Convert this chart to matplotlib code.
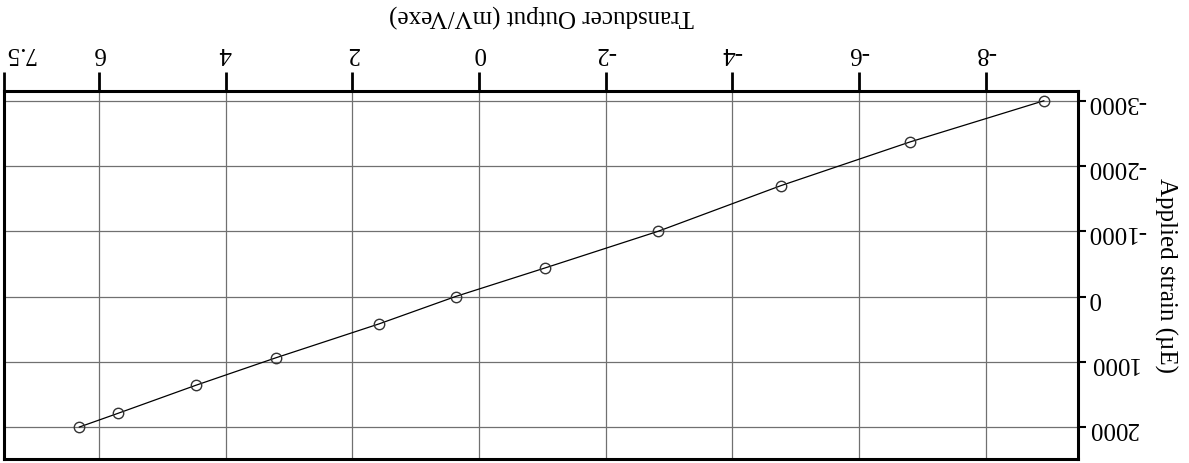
import matplotlib
matplotlib.use('Agg')
import matplotlib.pyplot as plt

output_mv = [-8.92, -6.81, -4.77, -2.83, -1.05, 0.37, 1.58, 3.21, 4.47, 5.70, 6.31]
strain_ue = [-3000, -2370, -1700, -1000, -440, 0, 420, 940, 1360, 1790, 2000]

x_ticks = [7.5, 6, 4, 2, 0, -2, -4, -6, -8]
x_tick_labels = ['7.5', '6', '4', '2', '0', '-2', '-4', '-6', '-8']
y_ticks = [-3000, -2000, -1000, 0, 1000, 2000]
y_tick_labels = ['-3000', '-2000', '-1000', '0', '1000', '2000']

plt.rcParams['font.family'] = ['Liberation Serif', 'DejaVu Serif']
plt.rcParams['axes.unicode_minus'] = False

fig = plt.figure(figsize=(11.89, 4.64), dpi=100)
ax = fig.add_axes([4 / 1189, 4 / 464, 1074 / 1189, 368 / 464])

# the page was scanned upside down: both axes inverted, text turned 180 deg
ax.plot(output_mv, strain_ue, color='black', lw=0.9,
        marker='o', ms=7.5, mfc='none', mec='#333333', mew=1.0, zorder=3)
ax.set_xlim(7.5, -9.46)
ax.set_ylim(2490, -3150)

ax.xaxis.tick_top()
ax.xaxis.set_label_position('top')
ax.yaxis.tick_right()
ax.yaxis.set_label_position('right')

ax.set_xticks(x_ticks)
ax.set_xticklabels(x_tick_labels)
ax.set_yticks(y_ticks)
ax.set_yticklabels(y_tick_labels)

ax.tick_params(axis='x', length=14, width=2, pad=6, labelsize=18, labelrotation=180)
ax.tick_params(axis='y', length=6, width=1.5, pad=1, labelsize=18, labelrotation=180)
for lbl in ax.get_yticklabels():
    lbl.set_va('center')
# the edge label sits inside the figure, not centred on its tick
ax.get_xticklabels()[0].set_ha('left')

ax.grid(True, color='#707070', lw=0.9)
for s in ax.spines.values():
    s.set_linewidth(2.2)
    s.set_color('black')

ax.set_xlabel('Transducer Output (mV/Vexe)', fontsize=18, rotation=180, labelpad=15)
ax.set_ylabel('Applied strain (\u00b5E)', fontsize=18, rotation=270, labelpad=14, va='center')

fig.savefig('out.png', dpi=100)
